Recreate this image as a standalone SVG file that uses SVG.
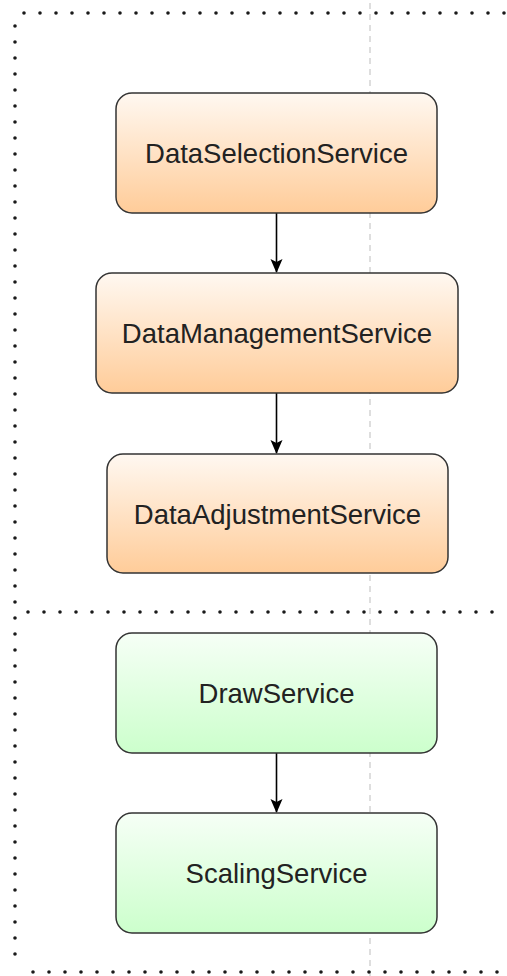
<svg xmlns="http://www.w3.org/2000/svg" width="507" height="976" viewBox="0 0 507 976">
  <defs>
    <linearGradient id="gOrange" x1="0" y1="0" x2="0" y2="1">
      <stop offset="0" stop-color="#fff8f1"/>
      <stop offset="1" stop-color="#ffcc99"/>
    </linearGradient>
    <linearGradient id="gGreen" x1="0" y1="0" x2="0" y2="1">
      <stop offset="0" stop-color="#f6fff6"/>
      <stop offset="1" stop-color="#ccffcc"/>
    </linearGradient>
    <marker id="arrow" viewBox="0 0 14 14" refX="13" refY="7" markerWidth="14" markerHeight="14" markerUnits="userSpaceOnUse" orient="auto">
      <path d="M0,1 L14,7 L0,13 L3,7 Z" fill="#000"/>
    </marker>
    <style>
      .dot { fill: none; stroke: #1a1a1a; stroke-width: 3.6; stroke-linecap: round; stroke-dasharray: 0 16; }
      .guide { fill: none; stroke: #bdbdbd; stroke-width: 1; stroke-dasharray: 6 5; }
      .box { stroke: #333; stroke-width: 1.5; }
      .lbl { font-family: "Liberation Sans", Arial, sans-serif; font-size: 27.5px; fill: #222; text-anchor: middle; }
      .edge { fill: none; stroke: #000; stroke-width: 1.6; }
    </style>
  </defs>
  <rect width="507" height="976" fill="#fff"/>

  <g id="frame">
    <line class="guide" x1="370" y1="3" x2="370" y2="976"/>
    <path class="dot" d="M24,13 L507,13"/>
    <path class="dot" d="M15,26 L15,966"/>
    <path class="dot" d="M33,972 L507,972"/>
    <path class="dot" d="M28,612 L507,612"/>
  </g>

  <g id="connectors">
    <line class="edge" x1="276.5" y1="213" x2="276.5" y2="272" marker-end="url(#arrow)"/>
    <line class="edge" x1="276.5" y1="393" x2="276.5" y2="453" marker-end="url(#arrow)"/>
    <line class="edge" x1="276.5" y1="753" x2="276.5" y2="812" marker-end="url(#arrow)"/>
  </g>

  <g id="DataSelectionService">
    <rect class="box" x="116" y="93" width="321" height="120" rx="16" fill="url(#gOrange)"/>
    <text class="lbl" x="276.5" y="163">DataSelectionService</text>
  </g>
  <g id="DataManagementService">
    <rect class="box" x="96" y="273" width="362" height="120" rx="16" fill="url(#gOrange)"/>
    <text class="lbl" x="277" y="343">DataManagementService</text>
  </g>
  <g id="DataAdjustmentService">
    <rect class="box" x="107" y="454" width="341" height="119" rx="16" fill="url(#gOrange)"/>
    <text class="lbl" x="277.5" y="523.5">DataAdjustmentService</text>
  </g>
  <g id="DrawService">
    <rect class="box" x="116" y="633" width="321" height="120" rx="16" fill="url(#gGreen)"/>
    <text class="lbl" x="276.5" y="703">DrawService</text>
  </g>
  <g id="ScalingService">
    <rect class="box" x="116" y="813" width="321" height="120" rx="16" fill="url(#gGreen)"/>
    <text class="lbl" x="276.5" y="883">ScalingService</text>
  </g>
</svg>
